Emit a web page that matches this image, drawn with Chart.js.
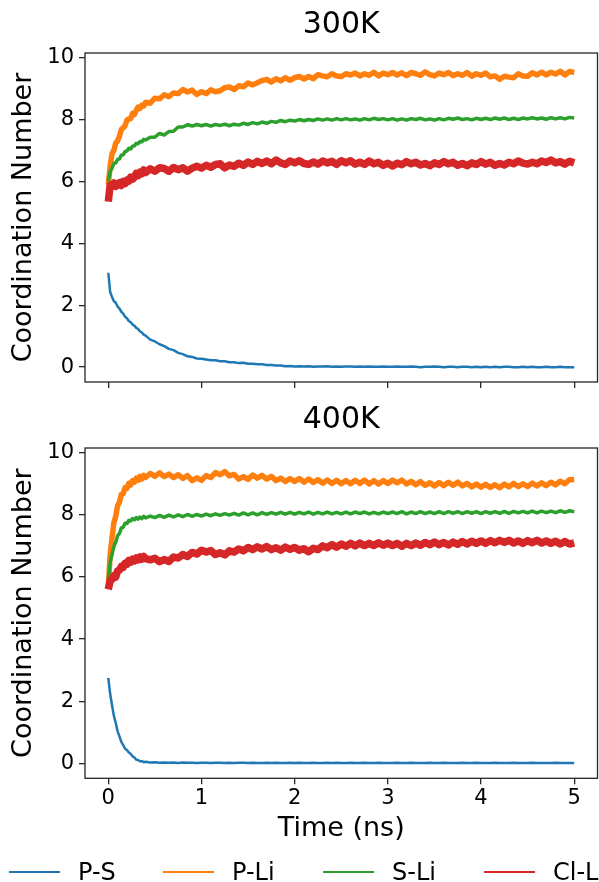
<!DOCTYPE html>
<html>
<head>
<meta charset="utf-8">
<script src="https://cdn.jsdelivr.net/npm/chart.js@4.4.1/dist/chart.umd.min.js"></script>
<style>
  body { margin: 0; width: 599px; height: 882px; overflow: hidden; background: #fff; position: relative; }
  canvas { position: absolute; left: 0; }
  #cn300 { top: 0; }
  #cn400 { top: 395px; }
  .key-line { position: absolute; top: 871px; width: 51px; height: 2px; }
  .key-text { position: absolute; top: 858px; font: 24px 'DejaVu Sans'; line-height: 28px; color: #000; white-space: nowrap; }
</style>
</head>
<body>
<canvas id="cn300" width="599" height="395"></canvas>
<canvas id="cn400" width="599" height="487"></canvas>
<div id="key"></div>
<script>
// time axis, ns (denser sampling over the first 0.4 ns)
const time = [
  0, 0.02, 0.04, 0.06, 0.08, 0.1, 0.12, 0.14, 0.16, 0.18, 0.2, 0.22, 0.24, 0.26, 0.28, 0.3, 0.32, 0.34, 0.36, 0.38, 0.4,
  0.45, 0.5, 0.55, 0.6, 0.65, 0.7, 0.75, 0.8, 0.85, 0.9, 0.95, 1,
  1.05, 1.1, 1.15, 1.2, 1.25, 1.3, 1.35, 1.4, 1.45, 1.5, 1.55, 1.6, 1.65, 1.7, 1.75, 1.8, 1.85, 1.9, 1.95, 2,
  2.05, 2.1, 2.15, 2.2, 2.25, 2.3, 2.35, 2.4, 2.45, 2.5, 2.55, 2.6, 2.65, 2.7, 2.75, 2.8, 2.85, 2.9, 2.95, 3,
  3.05, 3.1, 3.15, 3.2, 3.25, 3.3, 3.35, 3.4, 3.45, 3.5, 3.55, 3.6, 3.65, 3.7, 3.75, 3.8, 3.85, 3.9, 3.95, 4,
  4.05, 4.1, 4.15, 4.2, 4.25, 4.3, 4.35, 4.4, 4.45, 4.5, 4.55, 4.6, 4.65, 4.7, 4.75, 4.8, 4.85, 4.9, 4.95, 5
];

const seriesNames = ['P-S', 'P-Li', 'S-Li', 'Cl-Li'];
const xTicks = [0, 1, 2, 3, 4, 5];
const yTicks = [0, 2, 4, 6, 8, 10];

// ---- 300K ----
const ps300 = [
  3.05, 2.43, 2.27, 2.13, 2.08, 1.96, 1.89, 1.79, 1.73, 1.63, 1.58, 1.49, 1.45, 1.38, 1.34, 1.27, 1.23, 1.16, 1.12, 1.05, 1.02,
  0.89, 0.83, 0.74, 0.68, 0.59, 0.55, 0.46, 0.42, 0.35, 0.33, 0.28, 0.27,
  0.25, 0.22, 0.22, 0.19, 0.19, 0.16, 0.16, 0.13, 0.14, 0.11, 0.11, 0.09, 0.09, 0.07, 0.07, 0.05, 0.05, 0.03, 0.04, 0.02,
  0.03, 0.02, 0.03, 0.01, 0.02, 0.02, 0.03, 0.01, 0.02, 0.01, 0.02, 0.02, 0.01, 0.02, 0.01, 0.02, 0.01, 0.01, 0.02, 0.01,
  0.01, 0.02, 0.01, 0.01, 0.02, 0.01, 0, 0.01, 0.01, 0.02, 0.01, 0, 0.01, 0.01, 0, 0.01, 0.01, 0, 0.01, 0,
  0.01, 0, 0.01, 0, 0.01, 0.01, 0, 0, 0.01, 0, 0.01, 0, 0, 0.01, 0, 0, 0.01, 0, 0, 0
];
const pli300 = [
  5.9, 6.5, 6.9, 7.01, 7.24, 7.31, 7.46, 7.68, 7.73, 7.8, 7.98, 8.02, 8.03, 8.2, 8.16, 8.3, 8.4, 8.36, 8.47, 8.44, 8.56,
  8.53, 8.69, 8.67, 8.8, 8.74, 8.86, 8.84, 8.97, 8.89, 8.95, 8.81, 8.9,
  8.84, 8.96, 8.9, 8.93, 9.03, 9.05, 8.97, 9.09, 9.06, 9.18, 9.12, 9.19, 9.26, 9.3, 9.21, 9.32, 9.25, 9.35, 9.27, 9.35,
  9.39, 9.31, 9.39, 9.32, 9.45, 9.41, 9.38, 9.48, 9.41, 9.39, 9.48, 9.44, 9.5, 9.41, 9.48, 9.43, 9.53, 9.41, 9.5, 9.45,
  9.52, 9.44, 9.51, 9.42, 9.52, 9.48, 9.43, 9.54, 9.45, 9.41, 9.5, 9.45, 9.52, 9.42, 9.48, 9.43, 9.52, 9.4, 9.48, 9.43,
  9.5, 9.38, 9.41, 9.3, 9.4, 9.37, 9.35, 9.48, 9.41, 9.4, 9.51, 9.44, 9.53, 9.44, 9.53, 9.47, 9.56, 9.44, 9.55, 9.52
];
const sli300 = [
  6.0, 6.32, 6.43, 6.58, 6.6, 6.71, 6.73, 6.85, 6.86, 6.97, 6.98, 7.07, 7.05, 7.14, 7.15, 7.23, 7.22, 7.29, 7.28, 7.36, 7.34,
  7.43, 7.43, 7.55, 7.5, 7.61, 7.62, 7.76, 7.76, 7.83, 7.79, 7.84, 7.8,
  7.84, 7.79, 7.84, 7.81, 7.85, 7.8, 7.85, 7.82, 7.88, 7.84, 7.9, 7.86, 7.92, 7.88, 7.94, 7.91, 7.97, 7.93, 7.98, 7.95,
  8.0, 7.96, 8.0, 7.97, 8.02, 7.98, 8.02, 7.98, 8.03, 7.99, 8.03, 7.99, 8.02, 7.98, 8.03, 7.99, 8.04, 8.0, 8.03, 7.99,
  8.03, 7.98, 8.02, 7.98, 8.03, 8.0, 8.04, 7.99, 8.02, 7.98, 8.03, 7.99, 8.04, 8.01, 8.05, 8.0, 8.03, 7.99, 8.04, 8.0,
  8.04, 8.0, 8.05, 8.01, 8.05, 8.0, 8.04, 8.0, 8.05, 8.02, 8.06, 8.02, 8.05, 8.01, 8.06, 8.02, 8.06, 8.02, 8.07, 8.05
];
const cll300 = [
  5.35, 5.88, 5.86, 5.95, 5.84, 5.9, 5.96, 5.87, 6.0, 5.93, 6.04, 6.01, 6.14, 6.07, 6.13, 6.26, 6.19, 6.3, 6.25, 6.37, 6.29,
  6.41, 6.33, 6.44, 6.42, 6.33, 6.45, 6.38, 6.44, 6.33, 6.43, 6.49, 6.43,
  6.52, 6.46, 6.55, 6.57, 6.44, 6.53, 6.49, 6.59, 6.52, 6.63, 6.55, 6.65, 6.58, 6.66, 6.57, 6.69, 6.6, 6.55, 6.66, 6.6,
  6.67, 6.58, 6.55, 6.63, 6.56, 6.66, 6.6, 6.65, 6.55, 6.67, 6.6, 6.67, 6.56, 6.62, 6.55, 6.66, 6.57, 6.62, 6.52, 6.59,
  6.5, 6.59, 6.54, 6.64, 6.57, 6.62, 6.53, 6.58, 6.51, 6.6, 6.55, 6.64, 6.57, 6.62, 6.52, 6.58, 6.51, 6.6, 6.55, 6.64,
  6.56, 6.62, 6.52, 6.58, 6.53, 6.62, 6.57, 6.66, 6.59, 6.56, 6.62, 6.57, 6.66, 6.61, 6.69, 6.6, 6.64, 6.56, 6.65, 6.6
];

// ---- 400K ----
const ps400 = [
  2.75, 2.24, 1.87, 1.53, 1.3, 1.03, 0.87, 0.69, 0.59, 0.47, 0.43, 0.35, 0.31, 0.23, 0.19, 0.12, 0.11, 0.07, 0.07, 0.04, 0.05,
  0.03, 0.04, 0.02, 0.03, 0.02, 0.03, 0.01, 0.03, 0.02, 0.02, 0.01, 0.02,
  0.02, 0.01, 0.02, 0.02, 0.01, 0.02, 0.01, 0.02, 0.02, 0.01, 0.02, 0.01, 0.01, 0.02, 0.01, 0.02, 0.01, 0.01, 0.02, 0.01,
  0.02, 0.01, 0.01, 0.02, 0.01, 0.01, 0.02, 0.01, 0.02, 0.01, 0.01, 0.02, 0.01, 0.01, 0.02, 0.01, 0.01, 0.02, 0.01, 0.01,
  0.01, 0.02, 0.01, 0.01, 0.02, 0.01, 0.01, 0.01, 0.02, 0.01, 0.01, 0.02, 0.01, 0.01, 0.01, 0.02, 0.01, 0.01, 0.02, 0.01,
  0.01, 0.01, 0.02, 0.01, 0.01, 0.01, 0.02, 0.01, 0.01, 0.01, 0.02, 0.01, 0.01, 0.01, 0.01, 0.02, 0.01, 0.01, 0.01, 0.01
];
const pli400 = [
  5.7, 6.72, 7.26, 7.75, 7.95, 8.3, 8.41, 8.66, 8.68, 8.88, 8.85, 9.01, 8.96, 9.1, 9.05, 9.18, 9.11, 9.24, 9.15, 9.27, 9.2,
  9.33, 9.24, 9.35, 9.23, 9.31, 9.2, 9.29, 9.17, 9.26, 9.1, 9.19, 9.11,
  9.26, 9.2, 9.36, 9.29, 9.39, 9.25, 9.3, 9.15, 9.23, 9.14, 9.28, 9.18, 9.27, 9.15, 9.24, 9.1, 9.18, 9.07, 9.17, 9.07,
  9.17, 9.05, 9.15, 9.04, 9.13, 9.02, 9.12, 9.01, 9.11, 9.0, 9.1, 9.0, 9.11, 9.01, 9.12, 8.99, 9.1, 8.99, 9.1, 9.01,
  9.12, 9.03, 9.12, 8.99, 9.08, 8.97, 9.07, 8.95, 9.03, 8.93, 9.04, 8.94, 9.05, 8.95, 9.05, 8.93, 9.01, 8.9, 8.99, 8.89,
  8.98, 8.88, 8.97, 8.87, 8.99, 8.9, 9.01, 8.91, 9.0, 8.91, 9.02, 8.93, 9.03, 8.94, 9.05, 8.96, 9.08, 9.0, 9.13, 9.14
];
const sli400 = [
  5.9, 6.47, 6.72, 6.98, 7.12, 7.33, 7.4, 7.58, 7.6, 7.73, 7.72, 7.82, 7.8, 7.88, 7.84, 7.91, 7.86, 7.93, 7.88, 7.95, 7.9,
  7.96, 7.91, 7.98, 7.92, 7.99, 7.93, 8.0, 7.94, 8.01, 7.95, 8.01, 7.96,
  8.02, 7.97, 8.03, 7.98, 8.04, 7.99, 8.05, 7.99, 8.06, 8.0, 8.06, 8.0, 8.07, 8.01, 8.07, 8.02, 8.08, 8.02, 8.08, 8.02,
  8.08, 8.03, 8.09, 8.02, 8.08, 8.03, 8.09, 8.03, 8.08, 8.03, 8.09, 8.03, 8.09, 8.04, 8.09, 8.03, 8.08, 8.03, 8.09, 8.04,
  8.09, 8.04, 8.1, 8.03, 8.09, 8.04, 8.1, 8.04, 8.09, 8.04, 8.1, 8.04, 8.1, 8.05, 8.1, 8.04, 8.1, 8.05, 8.1, 8.04,
  8.1, 8.05, 8.1, 8.05, 8.11, 8.05, 8.11, 8.06, 8.11, 8.06, 8.12, 8.06, 8.12, 8.07, 8.12, 8.07, 8.13, 8.08, 8.13, 8.1
];
const cll400 = [
  5.6, 5.88, 5.92, 6.04, 6.0, 6.2, 6.22, 6.34, 6.31, 6.44, 6.41, 6.53, 6.48, 6.57, 6.52, 6.61, 6.55, 6.64, 6.57, 6.66, 6.59,
  6.55, 6.6, 6.49, 6.56, 6.5, 6.64, 6.61, 6.72, 6.66, 6.79, 6.74, 6.86,
  6.8, 6.85, 6.72, 6.78, 6.71, 6.84, 6.8, 6.9, 6.84, 6.95, 6.88, 6.97, 6.9, 6.98, 6.88, 6.94, 6.86, 6.96, 6.89, 6.95,
  6.86, 6.91, 6.81, 6.92, 6.88, 7.0, 6.94, 7.04, 6.96, 7.06, 6.99, 7.08, 7.0, 7.09, 7.01, 7.08, 7.01, 7.1, 7.02, 7.09,
  7.01, 7.08, 6.99, 7.08, 7.01, 7.09, 7.02, 7.11, 7.04, 7.12, 7.04, 7.11, 7.03, 7.12, 7.05, 7.14, 7.06, 7.15, 7.08, 7.16,
  7.08, 7.17, 7.1, 7.18, 7.11, 7.18, 7.09, 7.16, 7.08, 7.17, 7.1, 7.18, 7.09, 7.16, 7.08, 7.15, 7.06, 7.14, 7.06, 7.1
];

// matplotlib tab10 colours
const colors = ['#1f77b4', '#ff7f0e', '#2ca02c', '#d62728'];
// thick strokes so the fluctuation reads as a band
const widths = [2.5, 5.5, 3.5, 7.5];
const ink = '#262626';

Chart.defaults.font.family = "'DejaVu Sans'";
Chart.defaults.color = '#000';

// box around the plotting area
const frame = {
  id: 'frame',
  afterDatasetsDraw(chart) {
    const { ctx, chartArea: a } = chart;
    ctx.save();
    ctx.strokeStyle = ink;
    ctx.lineWidth = 1.3;
    ctx.strokeRect(a.left, a.top, a.right - a.left, a.bottom - a.top);
    ctx.restore();
  }
};

function makeChart(id, title, series, withXLabels) {
  return new Chart(document.getElementById(id), {
    type: 'line',
    data: {
      datasets: series.map((ys, i) => ({
        label: seriesNames[i],
        data: time.map((t, k) => ({ x: t, y: ys[k] })),
        borderColor: colors[i],
        borderWidth: widths[i],
        borderJoinStyle: 'round',
        pointRadius: 0,
        fill: false,
        order: series.length - 1 - i
      }))
    },
    options: {
      responsive: false,
      animation: false,
      devicePixelRatio: 1,
      layout: { padding: { top: 0, left: 0, right: 1.5, bottom: withXLabels ? 32.5 : 0 } },
      plugins: {
        legend: { display: false },
        tooltip: { enabled: false },
        title: {
          display: true, text: title, fullSize: false, color: '#000',
          font: { size: 30, weight: 'normal' },
          padding: { top: 7, bottom: 10 }
        }
      },
      scales: {
        x: {
          type: 'linear', min: -0.25, max: 5.25,
          afterBuildTicks: ax => { ax.ticks = xTicks.map(v => ({ value: v })); },
          afterFit: ax => { ax.height = withXLabels ? 71.2 : 13; ax.paddingLeft = 0; ax.paddingRight = 0; },
          border: { display: false },
          grid: { drawOnChartArea: false, drawTicks: true, tickLength: 6, color: ink, lineWidth: 1.3 },
          ticks: { display: withXLabels, font: { size: 21 }, color: '#000', padding: 2, maxRotation: 0 },
          title: { display: withXLabels, text: 'Time (ns)', font: { size: 27 }, color: '#000', padding: { top: 0, bottom: 4 } }
        },
        y: {
          min: -0.48, max: 10.15,
          afterBuildTicks: ax => { ax.ticks = yTicks.map(v => ({ value: v })); },
          afterFit: ax => { ax.width = 85; ax.paddingTop = 0; ax.paddingBottom = 0; },
          border: { display: false },
          grid: { drawOnChartArea: false, drawTicks: true, tickLength: 6, color: ink, lineWidth: 1.3 },
          ticks: { font: { size: 21 }, color: '#000', padding: 5 },
          title: { display: true, text: 'Coordination Number', font: { size: 27 }, color: '#000', padding: { top: 8, bottom: 0 } }
        }
      }
    },
    plugins: [frame]
  });
}

makeChart('cn300', '300K', [ps300, pli300, sli300, cll300], false);
makeChart('cn400', '400K', [ps400, pli400, sli400, cll400], true);

// shared legend along the bottom edge
const keyLeft = [9, 163, 323, 484];
const key = document.getElementById('key');
seriesNames.forEach((name, i) => {
  const line = document.createElement('div');
  line.className = 'key-line';
  line.style.left = keyLeft[i] + 'px';
  line.style.background = colors[i];
  const txt = document.createElement('div');
  txt.className = 'key-text';
  txt.style.left = (keyLeft[i] + 69) + 'px';
  txt.textContent = name;
  key.appendChild(line);
  key.appendChild(txt);
});
</script>
</body>
</html>
